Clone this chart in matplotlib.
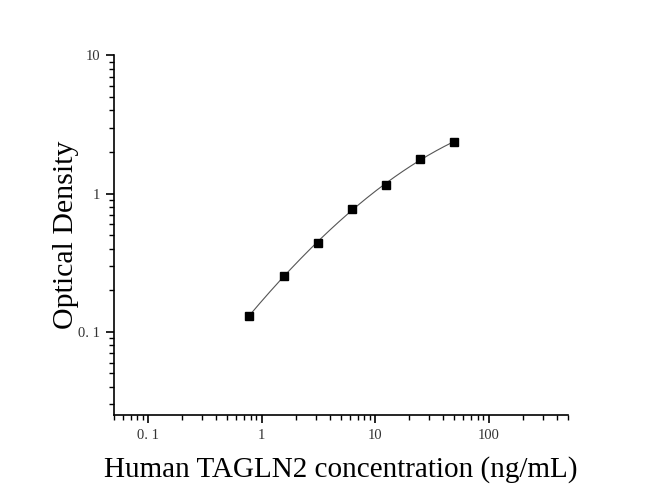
import numpy as np
import matplotlib
matplotlib.use("Agg")
import matplotlib.pyplot as plt
from matplotlib.ticker import FixedLocator, FixedFormatter, LogLocator, NullFormatter

# Data
concentration = [0.78, 1.56, 3.125, 6.25, 12.5, 25, 50]
optical_density = [0.131, 0.252, 0.442, 0.779, 1.148, 1.785, 2.37]
x_tick_values = [0.1, 1, 10, 100]
x_tick_labels = ["0. 1", "1", "10", "100"]
y_tick_values = [0.1, 1, 10]
y_tick_labels = ["0. 1", "1", "10"]

plt.rcParams['font.family'] = ['Liberation Serif', 'DejaVu Serif']

fig = plt.figure(figsize=(6.55, 4.93), dpi=100)
ax = fig.add_axes([0.174, 0.158, 0.693, 0.730])

# fitted curve in log-log space
lx = np.log10(concentration)
ly = np.log10(optical_density)
coef = np.polyfit(lx, ly, 3)
xs = np.linspace(lx.min(), lx.max(), 200)
ax.plot(10**xs, 10**np.polyval(coef, xs), color='#555555', lw=0.8, zorder=2)
ax.plot(concentration, optical_density, 's', color='black', markersize=6, zorder=3)

ax.set_xscale('log')
ax.set_yscale('log')
ax.set_xlim(0.05, 500)
ax.set_ylim(0.025, 10)

ax.xaxis.set_major_locator(FixedLocator(x_tick_values))
ax.xaxis.set_major_formatter(FixedFormatter(x_tick_labels))
ax.yaxis.set_major_locator(FixedLocator(y_tick_values))
ax.yaxis.set_major_formatter(FixedFormatter(y_tick_labels))
ax.xaxis.set_minor_locator(LogLocator(base=10, subs=np.arange(2, 10), numticks=20))
ax.yaxis.set_minor_locator(LogLocator(base=10, subs=np.arange(2, 10), numticks=20))
ax.xaxis.set_minor_formatter(NullFormatter())
ax.yaxis.set_minor_formatter(NullFormatter())

for s in ['top', 'right']:
    ax.spines[s].set_visible(False)
for s in ['left', 'bottom']:
    ax.spines[s].set_linewidth(1.2)

ax.tick_params(which='major', direction='out', length=6, width=1.2, labelsize=10.5, pad=4,
               labelcolor='#333333')
ax.tick_params(which='minor', direction='out', length=3.5, width=1.0)

ax.set_xlabel("Human TAGLN2 concentration (ng/mL)", fontsize=21, labelpad=10)
ax.set_ylabel("Optical Density", fontsize=21.5, labelpad=-1)

fig.savefig("out.png", dpi=100)
